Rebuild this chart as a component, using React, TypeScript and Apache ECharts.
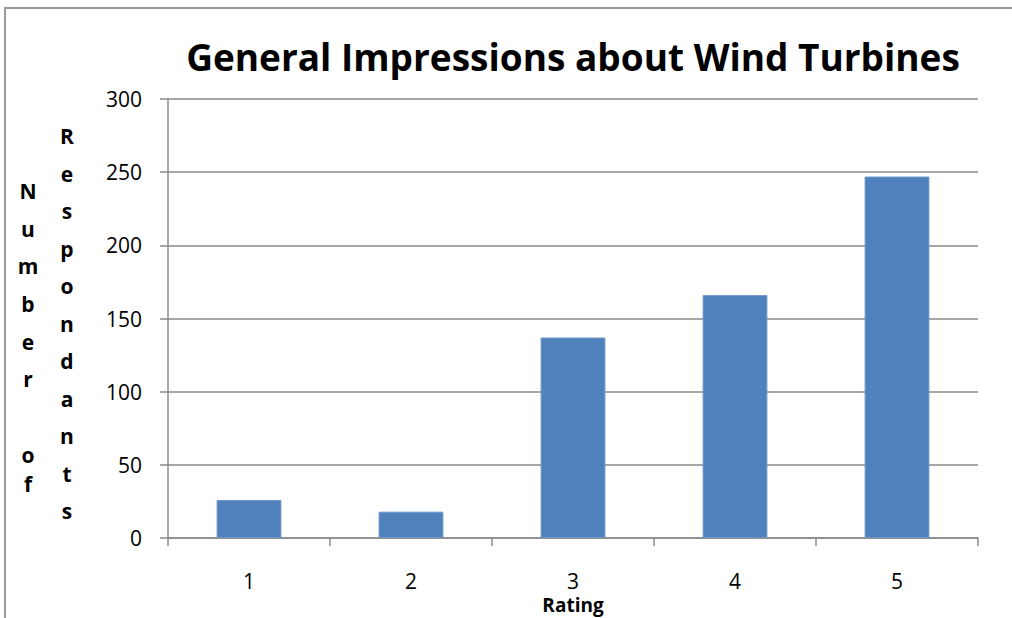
import React, { useEffect, useRef } from "react";
import * as echarts from "echarts";

const categories = ["1", "2", "3", "4", "5"];
const respondents = [26, 18, 137, 166, 247];
const yTicks = { min: 0, max: 300, interval: 50 };
const titleText = "General Impressions about Wind Turbines";
const xName = "Rating";
const yNameLeft = ["N", "u", "m", "b", "e", "r", "o", "f"];
const yNameRight = ["R", "e", "s", "p", "o", "n", "d", "a", "n", "t", "s"];

const FONT = "'Open Sans', 'Noto Sans', sans-serif";
const AXIS = "#8a8a8a";

export default function App() {
  const ref = useRef<HTMLDivElement>(null);
  useEffect(() => {
    document.body.style.margin = "0";
    if (!ref.current) return;
    const chart = echarts.init(ref.current, undefined, { renderer: "svg" });

    const leftCenters = [191, 229, 266, 304, 342, 379, 455, 484];
    const rightStart = 136;
    const letterStyle = { fontFamily: FONT, fontWeight: "bold", fontSize: 21, fill: "#000" };
    const letters: any[] = [];
    yNameLeft.forEach((ch, i) => {
      letters.push({
        type: "text",
        x: 28,
        y: leftCenters[i],
        style: { ...letterStyle, text: ch, align: "center", verticalAlign: "middle" },
      });
    });
    yNameRight.forEach((ch, i) => {
      letters.push({
        type: "text",
        x: 67,
        y: rightStart + i * 37.5,
        style: { ...letterStyle, text: ch, align: "center", verticalAlign: "middle" },
      });
    });

    chart.setOption({
      animation: false,
      title: {
        text: titleText,
        left: 568,
        top: 33,
        textAlign: "center",
        textStyle: { fontFamily: FONT, fontWeight: "bold", fontSize: 37, color: "#000" },
      },
      grid: { left: 168, right: 34, top: 99, bottom: 80, outerBoundsMode: "none" },
      xAxis: {
        type: "category",
        data: categories,
        name: xName,
        nameLocation: "middle",
        nameGap: 51,
        nameTextStyle: { fontFamily: FONT, fontWeight: "bold", fontSize: 19, color: "#000" },
        axisLine: { lineStyle: { color: AXIS, width: 1.5 } },
        axisTick: { show: true, length: 8, lineStyle: { color: AXIS, width: 1.5 } },
        axisLabel: { fontFamily: FONT, fontSize: 21, color: "#000", margin: 32 },
      },
      yAxis: {
        type: "value",
        min: yTicks.min,
        max: yTicks.max,
        interval: yTicks.interval,
        axisLine: { show: true, lineStyle: { color: AXIS, width: 1.5 } },
        axisTick: { show: true, length: 8, lineStyle: { color: AXIS, width: 1.5 } },
        axisLabel: { fontFamily: FONT, fontSize: 21, color: "#000", margin: 26 },
        splitLine: { show: true, lineStyle: { color: AXIS, width: 1.5 } },
      },
      series: [
        {
          type: "bar",
          data: respondents,
          barWidth: "40%",
          itemStyle: { color: "#4F81BD", borderColor: "#6f97c9", borderWidth: 1 },
        },
      ],
      graphic: [
        {
          type: "rect",
          shape: { x: 5, y: 8, width: 1100, height: 700 },
          style: { fill: "none", stroke: "#999", lineWidth: 2 },
          silent: true,
        },
        ...letters,
      ],
    });
    return () => chart.dispose();
  }, []);
  return <div ref={ref} style={{ width: 1012, height: 618 }} />;
}
